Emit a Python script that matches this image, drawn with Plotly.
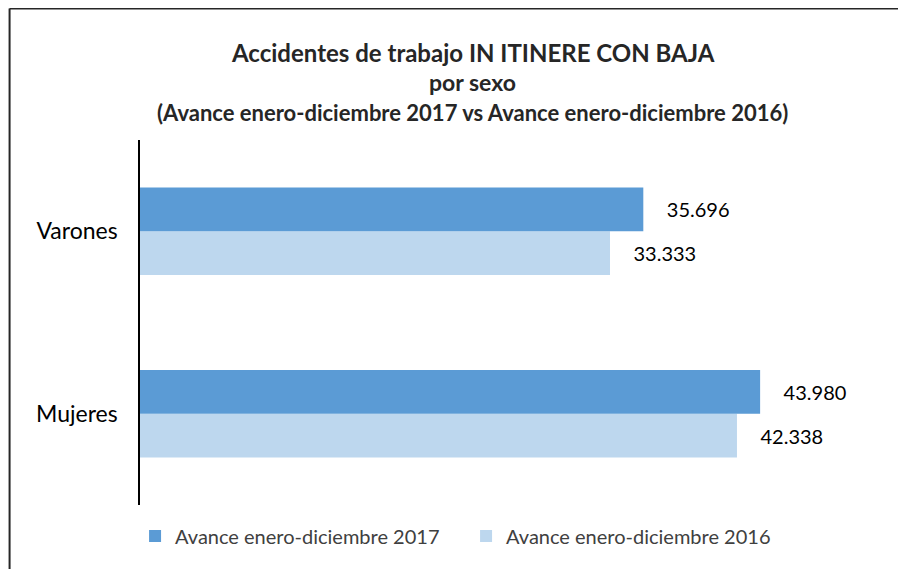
import plotly.graph_objects as go

categorias = ['Mujeres', 'Varones']
avance_2017 = [43980, 35696]
avance_2016 = [42338, 33333]
serie_2017 = 'Avance enero-diciembre 2017'
serie_2016 = 'Avance enero-diciembre 2016'
titulo = [
    'Accidentes de trabajo IN ITINERE CON BAJA',
    'por sexo',
    '(Avance enero-diciembre 2017 vs Avance enero-diciembre 2016)',
]

FONT = 'Lato, Carlito, Calibri, sans-serif'
pad = '\u00a0' * 4

fig = go.Figure()
# 2016 first so that it sits below 2017 inside each group
fig.add_trace(go.Bar(
    y=categorias, x=avance_2016, orientation='h', name=serie_2016,
    marker=dict(color='#BDD7EE', line=dict(width=0)),
    texttemplate=pad + '%{x:,.0f}', textposition='outside',
    textfont=dict(size=20, color='#000000', family=FONT),
    cliponaxis=False,
))
fig.add_trace(go.Bar(
    y=categorias, x=avance_2017, orientation='h', name=serie_2017,
    marker=dict(color='#5B9BD5', line=dict(width=0)),
    texttemplate=pad + '%{x:,.0f}', textposition='outside',
    textfont=dict(size=20, color='#000000', family=FONT),
    cliponaxis=False,
))

# title lines
for texto, yy, size in zip(titulo, [1.241, 1.159, 1.074], [24, 23, 22]):
    fig.add_annotation(text='<b>' + texto + '</b>', xref='paper', yref='paper',
                       x=0.472, y=yy, xanchor='center', yanchor='middle',
                       showarrow=False,
                       font=dict(size=size, color='#262626', family=FONT))

# outer frame (left and top edges only are visible)
fig.add_shape(type='line', xref='paper', yref='paper',
              x0=-0.185, x1=-0.185, y0=-0.3, y1=1.36,
              line=dict(color='#262626', width=2))
fig.add_shape(type='line', xref='paper', yref='paper',
              x0=-0.185, x1=1.2, y0=1.36, y1=1.36,
              line=dict(color='#262626', width=2))

# page body adds an 8px offset, so margins are reduced by 8
fig.update_layout(
    width=906, height=569,
    margin=dict(l=132, r=69, t=132, b=72, autoexpand=False),
    paper_bgcolor='white', plot_bgcolor='white',
    barmode='group', bargap=0.52, bargroupgap=0,
    separators=',.',
    font=dict(family=FONT, color='#000000'),
    showlegend=True,
    legend=dict(orientation='h', traceorder='reversed',
                x=-0.007, xanchor='left', y=-0.085, yanchor='middle',
                font=dict(size=20, color='#404040', family=FONT),
                itemwidth=30, entrywidth=286),
)
fig.update_xaxes(range=[0, 50000], showticklabels=False, showgrid=False,
                 zeroline=False, showline=False, fixedrange=True)
fig.update_yaxes(categoryorder='array', categoryarray=categorias,
                 showline=True, linecolor='#000000', linewidth=1.5,
                 ticks='', ticklabelstandoff=16, showgrid=False,
                 tickfont=dict(size=23, color='#000000', family=FONT))

fig.write_html('out.html')
